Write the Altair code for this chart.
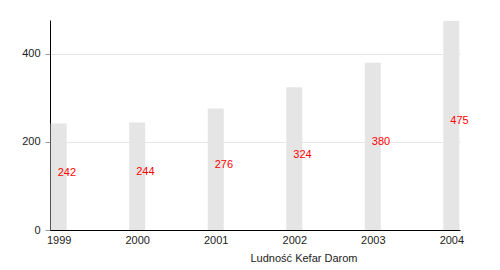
import altair as alt
import pandas as pd

years = ["1999", "2000", "2001", "2002", "2003", "2004"]
population = [242, 244, 276, 324, 380, 475]

df = pd.DataFrame({"year": years, "pop": population})
df["half"] = df["pop"] / 2

FONT = "Liberation Sans"

x = alt.X(
    "year:O",
    scale=alt.Scale(type="point", padding=0.11),
    axis=alt.Axis(
        title="Ludność Kefar Darom",
        titleFont=FONT, titleFontSize=11, titleFontWeight="normal",
        titleColor="#222", titleAnchor="start", titleX=200, titleY=22,
        titleBaseline="top",
        labelAngle=0, labelFont=FONT, labelFontSize=11, labelColor="#222",
        ticks=False, domainColor="#000", labelPadding=4,
    ),
)

y_axis = alt.Axis(
    title=None, values=[0, 200, 400], labelFont=FONT, labelFontSize=11,
    labelColor="#222", tickSize=5, tickColor="#999", domainColor="#000",
    gridColor="#e6e6e6", labelPadding=5,
)

bars = alt.Chart(df).mark_bar(color="#e5e5e5", size=16).encode(
    x=x,
    y=alt.Y("pop:Q", scale=alt.Scale(domain=[0, 477], nice=False), axis=y_axis),
)

labels = alt.Chart(df).mark_text(
    color="#ff0000", font=FONT, fontSize=11, align="left", baseline="middle", dx=-1, dy=-4
).encode(
    x=x,
    y=alt.Y("half:Q"),
    text="pop:Q",
)

chart = (bars + labels).properties(
    width=410, height=210,
    autosize=alt.AutoSizeParams(type="none"),
    padding={"left": 50, "top": 20, "right": 40, "bottom": 40},
    background="white",
).configure_view(stroke=None)

chart.save("out.html", embed_options={"renderer": "svg", "actions": False})
